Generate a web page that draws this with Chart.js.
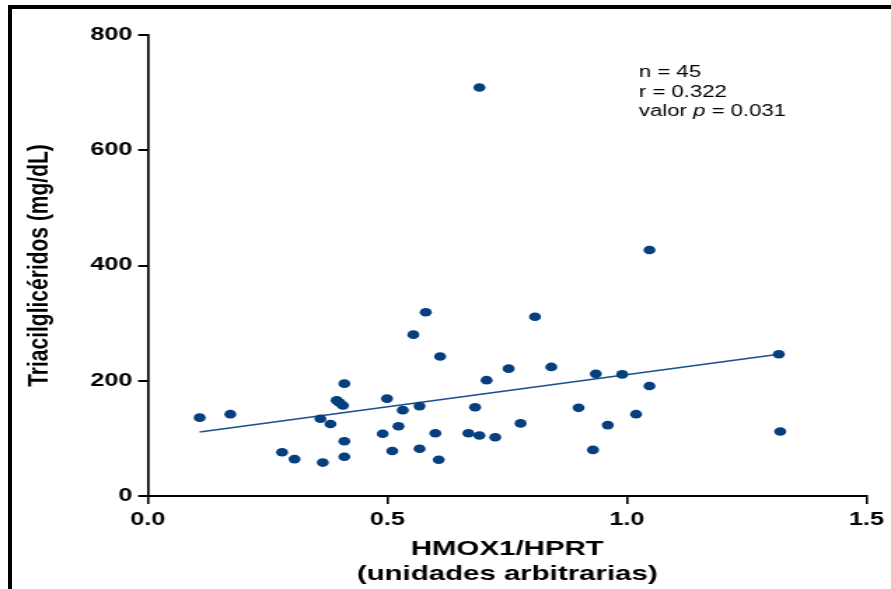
<!DOCTYPE html>
<html>
<head>
<meta charset="utf-8">
<script src="https://cdn.jsdelivr.net/npm/chart.js@4.4.1/dist/chart.umd.min.js"></script>
<style>
  html, body { margin: 0; padding: 0; background: #fff; }
  #wrap { position: relative; width: 891px; height: 589px; overflow: hidden; background: #fff; }
  #c { display: block; transform-origin: 0 0; transform: scaleX(1.40094); }
  #frame { position: absolute; left: 8px; top: 5px; right: -10px; bottom: -10px;
           border-top: 4px solid #000; border-left: 4px solid #000; pointer-events: none; }
</style>
</head>
<body>
<div id="wrap">
  <canvas id="c" width="636" height="589"></canvas>
  <div id="frame"></div>
</div>
<script>
// ---- data ----
const hmoxValues = [0.108, 0.172, 0.280, 0.306, 0.360, 0.365, 0.381, 0.394, 0.407, 0.410,
                    0.410, 0.410, 0.490, 0.499, 0.510, 0.523, 0.532, 0.567, 0.567, 0.600,
                    0.607, 0.669, 0.692, 0.683, 0.707, 0.725, 0.580, 0.554, 0.610, 0.753,
                    1.047, 0.808, 0.842, 0.935, 0.990, 1.047, 1.317, 0.899, 1.019, 0.778,
                    0.960, 0.929, 1.320, 0.692, 0.400];
const tgValues   = [136, 142, 76, 64, 134, 58, 125, 166, 157, 195,
                    95, 68, 108, 169, 78, 121, 149, 156, 82, 109,
                    63, 109, 105, 154, 201, 102, 319, 280, 242, 221,
                    427, 311, 224, 212, 211, 191, 246, 153, 142, 126,
                    123, 80, 112, 709, 162];
const trendX = [0.108, 1.317];
const trendY = [111, 246];
const xTicks = [0.0, 0.5, 1.0, 1.5];
const yTicks = [0, 200, 400, 600, 800];
const xTitle = ['HMOX1/HPRT', '(unidades arbitrarias)'];
const yTitle = 'Triacilglicéridos (mg/dL)';
const statsLines = [['n = 45'], ['r = 0.322'], ['valor ', 'p', ' = 0.031']];
const statsAnchor = { x: 1.025, y: 727 };

const pointData = hmoxValues.map((v, i) => ({ x: v, y: tgValues[i] }));
const trendData = trendX.map((v, i) => ({ x: v, y: trendY[i] }));

const FONT = "'Liberation Sans', Arial, Helvetica, sans-serif";

const statsPlugin = {
  id: 'stats',
  afterDraw(chart) {
    const ctx = chart.ctx;
    const xs = chart.scales.x, ys = chart.scales.y;
    const x0 = xs.getPixelForValue(statsAnchor.x);
    const y0 = ys.getPixelForValue(statsAnchor.y);
    ctx.save();
    ctx.fillStyle = '#000';
    ctx.textBaseline = 'alphabetic';
    ctx.textAlign = 'left';
    statsLines.forEach((parts, i) => {
      let x = x0;
      const y = y0 + i * 19.7;
      parts.forEach((p, j) => {
        ctx.font = (parts.length === 3 && j === 1 ? 'italic ' : '') + '15.8px ' + FONT;
        ctx.fillText(p, x, y);
        x += ctx.measureText(p).width;
      });
    });
    ctx.restore();
  }
};

new Chart(document.getElementById('c'), {
  type: 'scatter',
  data: {
    datasets: [
      {
        data: pointData,
        backgroundColor: '#073f7e',
        borderWidth: 0,
        pointRadius: 4.3,
        pointHoverRadius: 4.3
      },
      {
        data: trendData,
        showLine: true,
        borderColor: '#1a4f8c',
        borderWidth: 1.6,
        pointRadius: 0,
        fill: false
      }
    ]
  },
  options: {
    responsive: false,
    animation: false,
    devicePixelRatio: 1,
    layout: { padding: { top: 35, right: 16.4, bottom: 0, left: 0 } },
    plugins: { legend: { display: false }, tooltip: { enabled: false } },
    scales: {
      x: {
        type: 'linear',
        min: 0, max: 1.5,
        afterBuildTicks(scale) { scale.ticks = xTicks.map(v => ({ value: v })); },
        afterFit(scale) { scale.height = 93; },
        ticks: {
          color: '#000',
          padding: 5,
          font: { family: FONT, size: 18, weight: 'bold' },
          callback: v => Number(v).toFixed(1),
          maxRotation: 0
        },
        grid: { drawOnChartArea: false, drawTicks: true, tickLength: 8, tickWidth: 1.6, color: '#000', lineWidth: 1.6 },
        border: { display: true, color: '#000', width: 2 },
        title: {
          display: true,
          text: xTitle,
          color: '#000',
          font: { family: FONT, size: 21, weight: 'bold', lineHeight: 1.2 },
          padding: { top: 0, bottom: 2.4 }
        }
      },
      y: {
        type: 'linear',
        min: 0, max: 800,
        afterBuildTicks(scale) { scale.ticks = yTicks.map(v => ({ value: v })); },
        afterFit(scale) { scale.width = 105.6; },
        ticks: {
          color: '#000',
          padding: 4,
          font: { family: FONT, size: 18, weight: 'bold' }
        },
        grid: { drawOnChartArea: false, drawTicks: true, tickLength: 7, tickWidth: 2, color: '#000', lineWidth: 2 },
        border: { display: true, color: '#000', width: 1.7 },
        title: {
          display: true,
          text: yTitle,
          color: '#000',
          font: { family: FONT, size: 21, weight: 'bold', lineHeight: 1.2 },
          padding: { top: 16, bottom: 0 }
        }
      }
    }
  },
  plugins: [statsPlugin]
});
</script>
</body>
</html>
